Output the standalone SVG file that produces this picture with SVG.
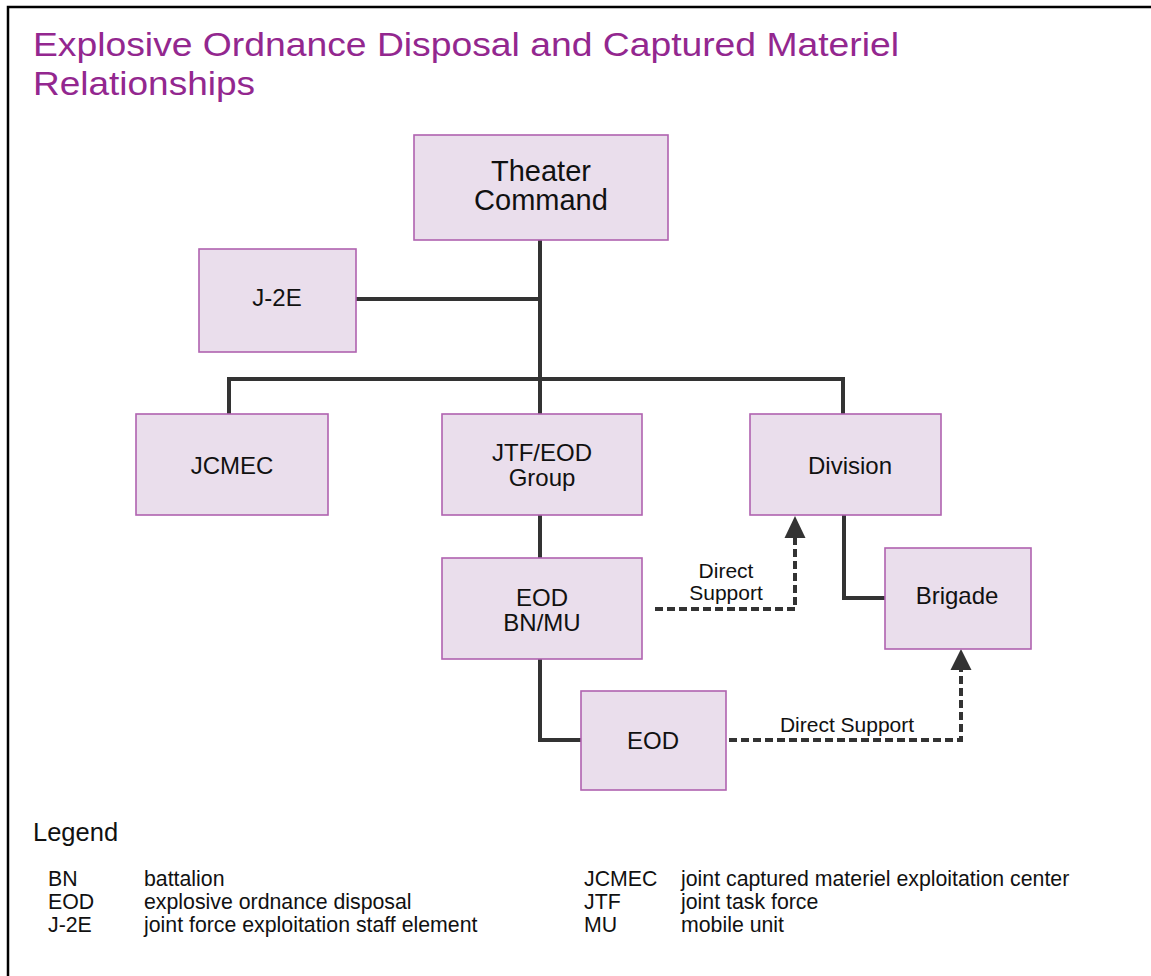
<svg xmlns="http://www.w3.org/2000/svg" width="1151" height="976" viewBox="0 0 1151 976">
  <defs>
    <style>
      .node rect { fill: #EADEEC; stroke: #B062B0; stroke-width: 1.6; }
      .node text { font-family: "Liberation Sans", Arial, sans-serif; font-size: 24px; fill: #111; text-anchor: middle; }
      .link { fill: none; stroke: #333; stroke-width: 4; }
      .dash { fill: none; stroke: #333; stroke-width: 4; stroke-dasharray: 8 4; }
      .head { fill: #333; }
      .lbl { font-family: "Liberation Sans", Arial, sans-serif; font-size: 21px; fill: #111; text-anchor: middle; }
      .title { font-family: "Liberation Sans", Arial, sans-serif; font-size: 34px; fill: #93278F; }
      .legend { font-family: "Liberation Sans", Arial, sans-serif; font-size: 21.3px; fill: #111; }
    </style>
  </defs>

  <rect width="1151" height="976" fill="#fff"/>
  <!-- outer frame; right and bottom edges run past the canvas -->
  <rect x="8" y="7" width="1170" height="1000" fill="none" stroke="#000" stroke-width="2.5"/>

  <!-- heading -->
  <text class="title" x="33" y="56" textLength="866" lengthAdjust="spacingAndGlyphs">Explosive Ordnance Disposal and Captured Materiel</text>
  <text class="title" x="33" y="95" textLength="222" lengthAdjust="spacingAndGlyphs">Relationships</text>

  <!-- connectors -->
  <g id="connectors">
    <path class="link" d="M540,240 V414"/>
    <path class="link" d="M356,299 H540"/>
    <path class="link" d="M229,414 V379 H843 V414"/>
    <path class="link" d="M540,515 V558"/>
    <path class="link" d="M540,659 V740 H581"/>
    <path class="link" d="M844,515 V598 H885"/>
    <path class="dash" d="M655,609 H795 V537"/>
    <polygon class="head" points="795,516 784.5,538 805.5,538"/>
    <path class="dash" d="M729,740 H961 V668"/>
    <polygon class="head" points="961,649 950.5,670 971.5,670"/>
    <text class="lbl" x="726" y="578">Direct</text>
    <text class="lbl" x="726" y="600">Support</text>
    <text class="lbl" x="847" y="732">Direct Support</text>
  </g>

  <!-- nodes -->
  <g id="theater" class="node">
    <rect x="414" y="135" width="254" height="105"/>
    <text x="541" y="181" style="font-size:29px">Theater</text>
    <text x="541" y="210" style="font-size:29px">Command</text>
  </g>
  <g id="j2e" class="node">
    <rect x="199" y="249" width="157" height="103"/>
    <text x="277" y="306">J-2E</text>
  </g>
  <g id="jcmec" class="node">
    <rect x="136" y="414" width="192" height="101"/>
    <text x="232" y="474">JCMEC</text>
  </g>
  <g id="jtf-eod" class="node">
    <rect x="442" y="414" width="200" height="101"/>
    <text x="542" y="461">JTF/EOD</text>
    <text x="542" y="486">Group</text>
  </g>
  <g id="division" class="node">
    <rect x="750" y="414" width="191" height="101"/>
    <text x="850" y="474">Division</text>
  </g>
  <g id="eod-bn-mu" class="node">
    <rect x="442" y="558" width="200" height="101"/>
    <text x="542" y="606">EOD</text>
    <text x="542" y="631">BN/MU</text>
  </g>
  <g id="brigade" class="node">
    <rect x="885" y="548" width="146" height="101"/>
    <text x="957" y="604">Brigade</text>
  </g>
  <g id="eod" class="node">
    <rect x="581" y="691" width="145" height="99"/>
    <text x="653" y="749">EOD</text>
  </g>

  <!-- abbreviations -->
  <g id="legend">
    <text class="legend" x="33" y="841" style="font-size:25.5px">Legend</text>
    <text class="legend" x="48" y="886">BN</text>
    <text class="legend" x="144" y="886">battalion</text>
    <text class="legend" x="48" y="909">EOD</text>
    <text class="legend" x="144" y="909">explosive ordnance disposal</text>
    <text class="legend" x="48" y="932">J-2E</text>
    <text class="legend" x="144" y="932">joint force exploitation staff element</text>
    <text class="legend" x="584" y="886">JCMEC</text>
    <text class="legend" x="681" y="886">joint captured materiel exploitation center</text>
    <text class="legend" x="584" y="909">JTF</text>
    <text class="legend" x="681" y="909">joint task force</text>
    <text class="legend" x="584" y="932">MU</text>
    <text class="legend" x="681" y="932">mobile unit</text>
  </g>
</svg>
